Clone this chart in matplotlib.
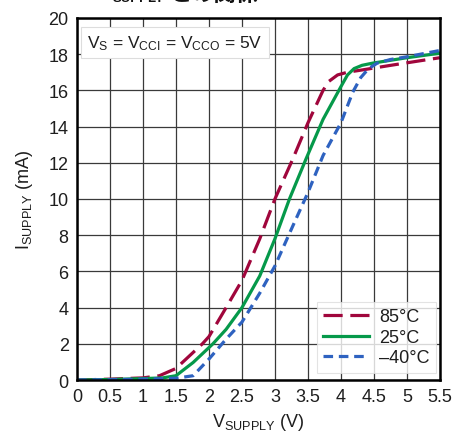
import matplotlib
matplotlib.use("Agg")
import matplotlib.pyplot as plt
from matplotlib.transforms import Affine2D

# Supply current vs supply voltage at three temperatures
v_85 = [0.0, 0.5, 1.0, 1.25, 1.5, 1.9, 2.0, 2.26, 2.5, 2.77, 3.0, 3.27, 3.5, 3.73, 3.82, 3.95, 4.1, 4.28, 4.79, 5.5]
i_85 = [0.0, 0.05, 0.12, 0.24, 0.64, 2.0, 2.4, 4.0, 5.5, 7.8, 10.0, 12.2, 14.2, 16.0, 16.5, 16.85, 17.0, 17.1, 17.4, 17.8]

v_25 = [0.0, 0.5, 1.0, 1.3, 1.5, 1.76, 2.06, 2.26, 2.5, 2.77, 3.0, 3.22, 3.47, 3.73, 4.0, 4.1, 4.2, 4.32, 4.48, 5.0, 5.5]
i_25 = [0.0, 0.03, 0.08, 0.12, 0.24, 0.97, 2.0, 2.8, 4.0, 5.75, 7.8, 10.0, 12.2, 14.4, 16.2, 16.85, 17.2, 17.38, 17.5, 17.8, 18.05]

v_m40 = [0.0, 0.5, 1.0, 1.5, 1.76, 2.0, 2.26, 2.5, 2.77, 3.0, 3.27, 3.5, 3.73, 4.0, 4.18, 4.3, 4.42, 4.55, 4.75, 5.0, 5.5]
i_m40 = [0.0, 0.02, 0.05, 0.1, 0.24, 1.16, 2.26, 3.2, 4.8, 6.3, 8.5, 10.35, 12.4, 14.2, 15.9, 16.7, 17.2, 17.5, 17.7, 17.85, 18.2]

x_ticks = [0, 0.5, 1, 1.5, 2, 2.5, 3, 3.5, 4, 4.5, 5, 5.5]
x_labels = ["0", "0.5", "1", "1.5", "2", "2.5", "3", "3.5", "4", "4.5", "5", "5.5"]
y_ticks = list(range(0, 21, 2))

base = "Liberation Sans"
plt.rcParams["font.family"] = [base, "Noto Sans CJK JP", "DejaVu Sans"]
plt.rcParams["mathtext.fontset"] = "custom"
plt.rcParams["mathtext.rm"] = base
plt.rcParams["mathtext.it"] = base
plt.rcParams["mathtext.bf"] = base + ":bold"

RED = "#A0063C"
GREEN = "#05994A"
BLUE = "#2E62C0"
TXT = "#1e1e1e"

W, H = 453, 439
fig = plt.figure(figsize=(W / 100, H / 100), dpi=100)
ax = fig.add_axes([0.170, 0.132, 0.801, 0.825])

ax.plot(v_85, i_85, color=RED, lw=2.3, dashes=(6, 2.4), label="85°C")
ax.plot(v_25, i_25, color=GREEN, lw=2.3, label="25°C")
ax.plot(v_m40, i_m40, color=BLUE, lw=2.3, dashes=(3, 1.8), label="–40°C")

ax.set_xlim(0, 5.5)
ax.set_ylim(0, 20)
ax.set_xticks(x_ticks)
ax.set_xticklabels(x_labels)
ax.set_yticks(y_ticks)
ax.grid(True, color="#3a3a3a", lw=0.9)
ax.set_axisbelow(True)
for s in ax.spines.values():
    s.set_linewidth(1.8)
    s.set_color("black")
ax.tick_params(length=0, labelsize=13, pad=6, colors=TXT)

ax.set_xlabel(r"V$_{\mathrm{SUPPLY}}$ (V)", fontsize=13, color=TXT, labelpad=4)
ax.set_ylabel(r"I$_{\mathrm{SUPPLY}}$ (mA)", fontsize=13, color=TXT, labelpad=10)

ax.text(0.028, 0.958, r"V$_{\mathrm{S}}$ = V$_{\mathrm{CCI}}$ = V$_{\mathrm{CCO}}$ = 5V",
        transform=ax.transAxes, fontsize=12.5, color=TXT, va="top", ha="left",
        bbox=dict(facecolor="white", edgecolor="#dddddd", lw=0.8, boxstyle="square,pad=0.35"))

leg = ax.legend(loc="lower right", fontsize=13, frameon=True, fancybox=False,
                handlelength=2.5, handletextpad=0.6, borderpad=0.35, labelspacing=0.2,
                borderaxespad=0.0, bbox_to_anchor=(0.99, 0.02))
leg.get_frame().set_edgecolor("#dddddd")
leg.get_frame().set_linewidth(0.8)
for t in leg.get_texts():
    t.set_color(TXT)

# Chart title sits at the very top edge of the figure
px = Affine2D().scale(1.0 / W, 1.0 / H) + fig.transFigure
fig.text(99, H + 3, "V", transform=px, fontsize=16, fontweight="bold",
         va="baseline", ha="left", color="#111111")
fig.text(113, H - 2, "SUPPLY", transform=px, fontsize=9.5, fontweight="bold",
         va="baseline", ha="left", color="#111111")
fig.text(169, H - 1, "との関係", transform=px, fontsize=16, fontweight="bold",
         family=["Noto Sans CJK JP", "DejaVu Sans"],
         va="baseline", ha="left", color="#111111")

fig.savefig("out.png", dpi=100)
